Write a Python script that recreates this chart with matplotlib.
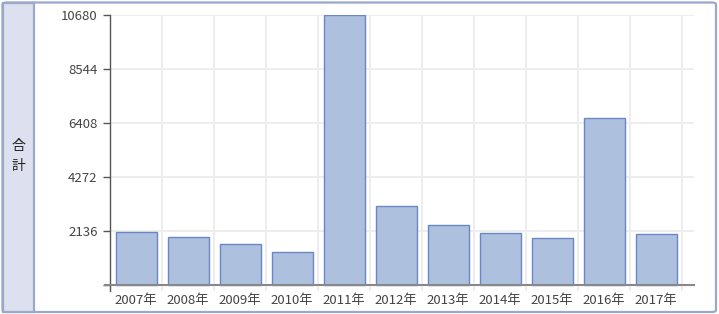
import matplotlib
matplotlib.use("Agg")
import matplotlib.pyplot as plt
from matplotlib.patches import Rectangle, FancyBboxPatch

plt.rcParams['font.family'] = ['Noto Sans CJK JP', 'DejaVu Sans']

years = ['2007年', '2008年', '2009年', '2010年', '2011年', '2012年',
         '2013年', '2014年', '2015年', '2016年', '2017年']
totals = [2085, 1887, 1635, 1305, 10680, 3138, 2387, 2044, 1847, 6594, 2017]
yticks = [0, 2136, 4272, 6408, 8544, 10680]
side_label = '合計'

W, H = 719, 314
fig = plt.figure(figsize=(W / 100, H / 100), dpi=100)

# outer frame and the left label panel (behind the axes)
frame = FancyBboxPatch((2.5 / W, 2 / H), 713.5 / W, 309.5 / H,
                       boxstyle="round,pad=0,rounding_size=0.006",
                       transform=fig.transFigure, facecolor='white',
                       edgecolor='#9aa8cc', linewidth=1.6, zorder=-2)
fig.patches.append(frame)
panel = Rectangle((2.5 / W, 2 / H), 31 / W, 309.5 / H, transform=fig.transFigure,
                  facecolor='#dde0ee', edgecolor='#9aa8cc', linewidth=1.6, zorder=-1)
fig.patches.append(panel)
fig.text(18 / W, 1 - 146 / H, side_label[0], ha='center', va='center', fontsize=10, color='#222')
fig.text(18 / W, 1 - 166 / H, side_label[1], ha='center', va='center', fontsize=10, color='#222')

# plot area: x 110..694 px, y 0 at 285 px, top at 15 px
px_per_unit = (285 - 15) / 10680
ylow = -6 / px_per_unit
ax = fig.add_axes([110 / W, (H - 291) / H, 584 / W, 276 / H])
ax.set_facecolor('none')

n = len(years)
x = list(range(n))
xmax = n - 0.5 + 12 / 52
ax.set_xlim(-0.5, xmax)
ax.set_ylim(ylow, 10680)

for b in [i - 0.5 for i in range(n + 1)]:
    ax.axvline(b, color='#ededed', linewidth=1.4, zorder=0)
for t in yticks[1:]:
    ax.axhline(t, color='#ededed', linewidth=1.4, zorder=0)

ax.bar(x, totals, width=41 / 52, color='#adc0dd', edgecolor='#6a86c4', linewidth=1.0, zorder=2)

ax.plot([-0.5 - 5 / 52, xmax], [0, 0], color='#888888', linewidth=1.5, clip_on=False, zorder=3)

for s in ['top', 'right', 'bottom']:
    ax.spines[s].set_visible(False)
ax.spines['left'].set_color('#555555')
ax.spines['left'].set_linewidth(1.0)

ax.set_yticks(yticks)
ax.set_yticklabels([''] + [str(v) for v in yticks[1:]])
ax.tick_params(axis='y', length=5, width=1, color='#555555', labelsize=9.5,
               labelcolor='#444444', pad=4)
ax.set_xticks(x)
ax.set_xticklabels(years)
ax.tick_params(axis='x', length=0, labelsize=9.5, labelcolor='#444444', pad=2)

fig.savefig('out.png', dpi=100)
